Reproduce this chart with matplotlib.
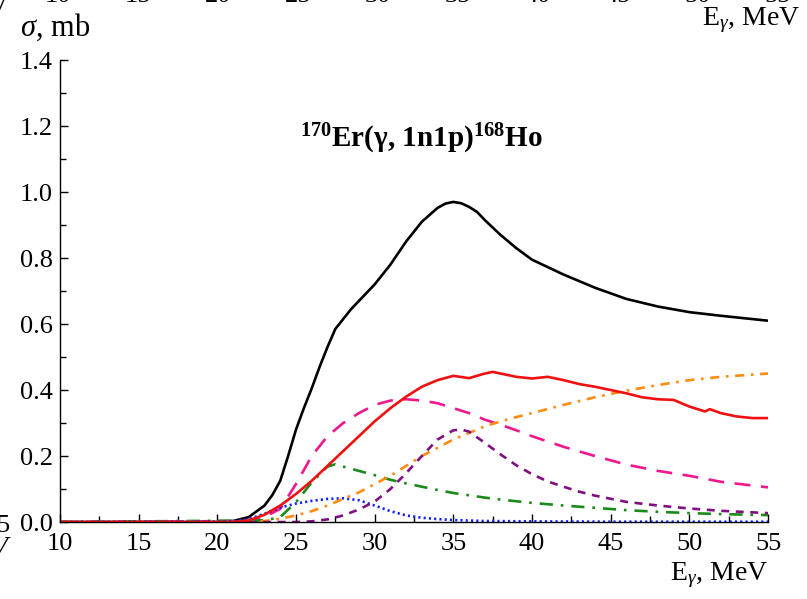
import numpy as np
import matplotlib
matplotlib.use("Agg")
import matplotlib.pyplot as plt
from matplotlib.ticker import MultipleLocator

plt.rcParams['font.family'] = ['Liberation Serif', 'DejaVu Serif']
plt.rcParams['mathtext.fontset'] = 'custom'
plt.rcParams['mathtext.rm'] = 'Liberation Serif'
plt.rcParams['mathtext.it'] = 'Liberation Serif:italic'
plt.rcParams['mathtext.bf'] = 'Liberation Serif:bold'

# total cross section (black)
x_tot = [10, 20, 21, 22, 23, 23.5, 24, 24.5, 25, 25.5, 26, 26.5, 27, 27.5, 28,
         28.5, 29, 30, 31, 32, 33, 34, 34.5, 35, 35.5, 36, 36.5, 37, 38, 39,
         40, 42, 44, 46, 48, 50, 52, 55]
y_tot = [0, 0, 0.003, 0.015, 0.05, 0.082, 0.125, 0.2, 0.28, 0.345, 0.405,
         0.47, 0.53, 0.585, 0.615, 0.645, 0.67, 0.72, 0.78, 0.85, 0.91, 0.952,
         0.965, 0.97, 0.966, 0.955, 0.94, 0.915, 0.87, 0.83, 0.795, 0.75,
         0.71, 0.676, 0.653, 0.636, 0.625, 0.61]

# experimental-like curve (red, jagged)
x_red = [10, 21, 22, 23, 24, 25, 26, 27, 28, 29, 30, 31, 32, 33, 34, 35, 36,
         37, 37.5, 38, 39, 40, 41, 42, 43, 44, 45, 46, 47, 48, 49, 50, 51,
         51.3, 52, 53, 54, 55]
y_red = [0, 0, 0.005, 0.022, 0.05, 0.085, 0.125, 0.17, 0.215, 0.26, 0.305,
         0.345, 0.38, 0.41, 0.43, 0.443, 0.436, 0.45, 0.455, 0.45, 0.44, 0.435,
         0.44, 0.43, 0.418, 0.41, 0.40, 0.39, 0.378, 0.372, 0.37, 0.35, 0.335,
         0.342, 0.33, 0.32, 0.315, 0.315]

# component curves
x_mag = [10, 22, 23, 24, 25, 26, 27, 28, 29, 30, 31, 32, 33, 34, 35, 36, 37,
         38, 39, 40, 42, 44, 46, 48, 50, 52, 55]
y_mag = [0, 0.003, 0.015, 0.04, 0.115, 0.2, 0.26, 0.3, 0.33, 0.355, 0.368,
         0.372, 0.368, 0.36, 0.345, 0.33, 0.31, 0.295, 0.278, 0.26, 0.228, 0.2,
         0.174, 0.155, 0.14, 0.122, 0.105]

x_grn = [10, 23, 24, 25, 26, 27, 27.5, 28, 29, 30, 31, 32, 33, 34, 35, 36, 37,
         38, 40, 42, 44, 46, 48, 50, 52, 55]
y_grn = [0, 0.005, 0.015, 0.06, 0.12, 0.168, 0.175, 0.168, 0.155, 0.142,
         0.128, 0.117, 0.107, 0.097, 0.088, 0.081, 0.074, 0.068, 0.058, 0.05,
         0.043, 0.036, 0.031, 0.027, 0.024, 0.021]

x_blu = [10, 21, 22, 23, 24, 25, 26, 27, 28, 29, 30, 31, 32, 33, 34, 35, 37,
         40, 45, 55]
y_blu = [0, 0.002, 0.009, 0.025, 0.044, 0.056, 0.064, 0.07, 0.072, 0.066,
         0.05, 0.033, 0.02, 0.013, 0.009, 0.006, 0.003, 0.002, 0.001, 0.001]

x_org = [10, 22, 23, 24, 25, 26, 27, 28, 29, 30, 31, 32, 33, 34, 35, 36, 37,
         38, 39, 40, 42, 44, 46, 48, 50, 52, 55]
y_org = [0, 0, 0.003, 0.01, 0.02, 0.033, 0.05, 0.07, 0.09, 0.115, 0.14, 0.17,
         0.2, 0.225, 0.25, 0.27, 0.29, 0.305, 0.318, 0.33, 0.355, 0.378, 0.398,
         0.415, 0.43, 0.44, 0.45]

x_pur = [10, 25, 26, 27, 28, 29, 30, 31, 32, 33, 34, 35, 35.5, 36, 37, 38,
         39, 40, 41, 42, 43, 44, 46, 48, 50, 52, 55]
y_pur = [0, 0, 0.002, 0.008, 0.02, 0.038, 0.062, 0.1, 0.148, 0.2, 0.25, 0.278,
         0.28, 0.274, 0.24, 0.205, 0.172, 0.145, 0.123, 0.107, 0.092, 0.08,
         0.061, 0.05, 0.041, 0.034, 0.027]

x_ticks = [10, 15, 20, 25, 30, 35, 40, 45, 50, 55]

fig = plt.figure(figsize=(8.07, 5.99), dpi=100)
ax = fig.add_axes([0.0743, 0.1285, 0.8774, 0.7713])

kw = dict(lw=1.9, solid_joinstyle='round', solid_capstyle='butt')
ax.plot(x_tot, y_tot, color='black', **kw)
ax.plot(x_mag, y_mag, color='#f0188c', ls=(0, (6, 4)), **kw)
ax.plot(x_grn, y_grn, color='#1a8a1a', ls=(0, (5, 3, 1, 3)), **kw)
ax.plot(x_blu, y_blu, color='#1020ff', ls=(0, (0.8, 1.2)), **kw)
ax.plot(x_org, y_org, color='#ff8c10', ls=(0, (3.5, 2.5, 1, 2.5)), **kw)
ax.plot(x_pur, y_pur, color='#801080', ls=(0, (3, 2.5)), **kw)
ax.plot(x_red, y_red, color='#f01010', **kw)

ax.set_xlim(10, 55)
ax.set_ylim(0, 1.4)
ax.xaxis.set_major_locator(MultipleLocator(5))
ax.xaxis.set_minor_locator(MultipleLocator(2.5))
ax.yaxis.set_major_locator(MultipleLocator(0.2))
ax.yaxis.set_minor_locator(MultipleLocator(0.1))
ax.yaxis.set_major_formatter(plt.FuncFormatter(lambda v, p: f"{v:.1f}"))
ax.tick_params(which='both', direction='in', labelsize=19, width=1)
ax.tick_params(which='major', length=6)
ax.tick_params(which='minor', length=4.5)
ax.tick_params(axis='x', pad=8)
ax.tick_params(axis='y', pad=5)
for s in ['top', 'right']:
    ax.spines[s].set_visible(False)
for s in ['left', 'bottom']:
    ax.spines[s].set_linewidth(1)

ax.text(0.511, 0.83, r"$^{\mathbf{170}}$Er(γ, 1n1p)$^{\mathbf{168}}$Ho",
        transform=ax.transAxes, ha='center', va='center', fontsize=21,
        fontweight='bold')

fig.text(20 / 807, 1 - 27 / 599, r"$\it{\sigma}$, mb", fontsize=22,
         ha='left', va='center')
fig.text(768 / 807, 1 - 575 / 599, r"E$_\gamma$, MeV", fontsize=20,
         ha='right', va='center')

# fragments of the neighbouring panels
fig.text(800 / 807, 1 - 20 / 599, r"E$_\gamma$, MeV", fontsize=20,
         ha='right', va='center')
for k, lab in enumerate(x_ticks):
    fig.text((58 + 80 * k) / 807, 1 - 2 / 599, str(lab), fontsize=19,
             ha='center', va='baseline')
fig.text(8 / 807, 1 - 14 / 599, "V", fontsize=20, ha='right', va='baseline')
fig.text(9 / 807, 1 - 532 / 599, "5", fontsize=19, ha='right', va='baseline')
fig.text(8 / 807, 1 - 555 / 599, "V", fontsize=20, ha='right', va='baseline',
         style='italic')

fig.savefig("out.png", dpi=100)
